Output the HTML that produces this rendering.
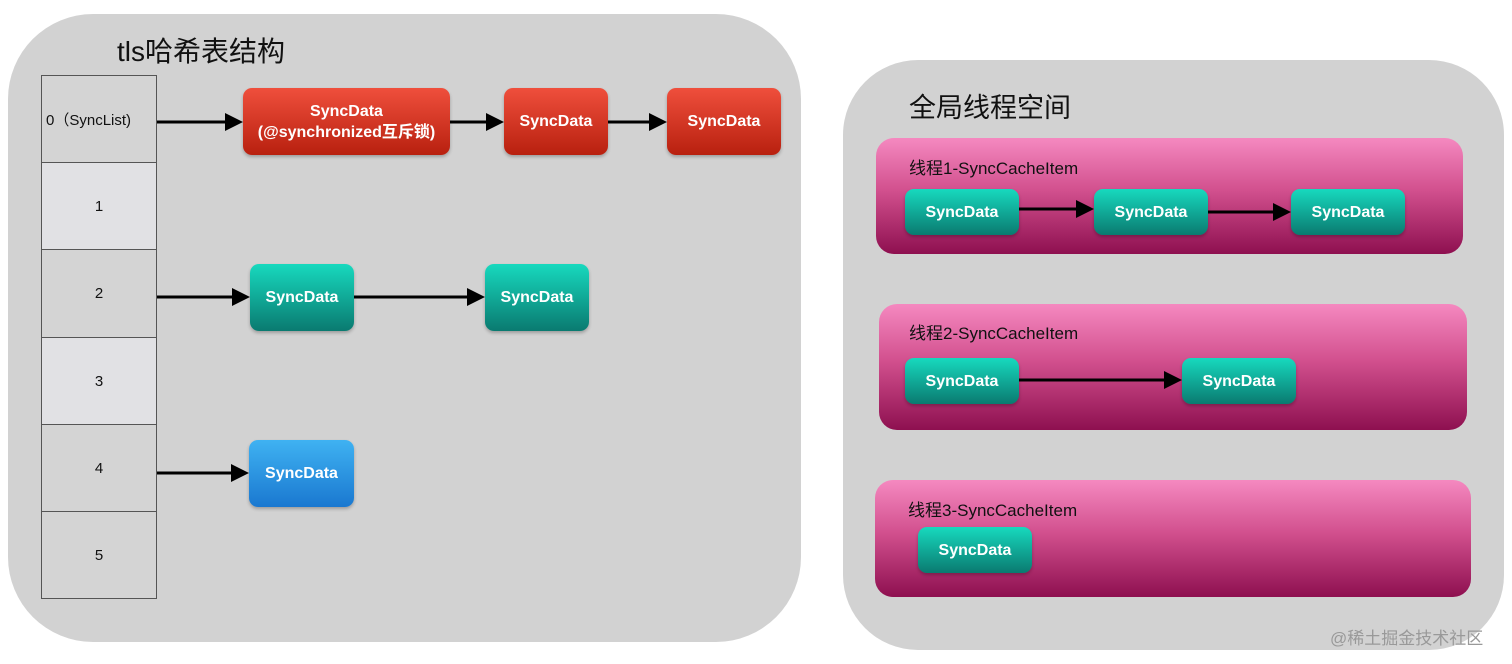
<!DOCTYPE html>
<html><head><meta charset="utf-8"><style>
*{margin:0;padding:0;box-sizing:border-box}
body{width:1512px;height:664px;background:#fff;position:relative;overflow:hidden;font-family:"Liberation Sans","Noto Sans CJK SC",sans-serif}
.p{position:absolute;background:#d2d2d2}
.cell{position:absolute;left:41px;width:116px;border:1px solid #555;display:flex;align-items:center;justify-content:center;font-size:15px;color:#111}
.n{position:absolute;border-radius:9px;color:#fff;font-weight:bold;font-size:16px;display:flex;align-items:center;justify-content:center;text-align:center;line-height:21px;box-shadow:0 2px 3px rgba(0,0,0,.25)}
.r{background:linear-gradient(#ef4f3c,#b8200f)}
.g{background:linear-gradient(#17d9be,#0a7a70)}
.b{background:linear-gradient(#3fb2f2,#1a78d0)}
.pk{position:absolute;border-radius:18px;background:linear-gradient(#f589c0,#d2508e 45%,#8e1050)}
.pk span{position:absolute;left:33px;top:16px;font-size:17px;color:#111}
svg{position:absolute;left:0;top:0}
</style></head><body>
<div class="p" style="left:8px;top:14px;width:793px;height:628px;border-radius:85px"></div>
<div class="p" style="left:843px;top:60px;width:661px;height:590px;border-radius:75px"></div>
<div style="position:absolute;left:117px;top:30px;font-size:28px;color:#111">tls哈希表结构</div>
<div style="position:absolute;left:909px;top:86px;font-size:27px;color:#111">全局线程空间</div>
<div class="cell" style="top:75px;height:88px;background:#d4d4d4;justify-content:flex-start;padding-left:4px">0（SyncList)</div>
<div class="cell" style="top:162px;height:88px;background:#e1e1e4">1</div>
<div class="cell" style="top:249px;height:89px;background:#d4d4d4">2</div>
<div class="cell" style="top:337px;height:88px;background:#e1e1e4">3</div>
<div class="cell" style="top:424px;height:88px;background:#d4d4d4">4</div>
<div class="cell" style="top:511px;height:88px;background:#d4d4d4">5</div>
<div class="n r" style="left:243px;top:88px;width:207px;height:67px">SyncData<br>(@synchronized互斥锁)</div>
<div class="n r" style="left:504px;top:88px;width:104px;height:67px">SyncData</div>
<div class="n r" style="left:667px;top:88px;width:114px;height:67px">SyncData</div>
<div class="n g" style="left:250px;top:264px;width:104px;height:67px">SyncData</div>
<div class="n g" style="left:485px;top:264px;width:104px;height:67px">SyncData</div>
<div class="n b" style="left:249px;top:440px;width:105px;height:67px">SyncData</div>
<div class="pk" style="left:876px;top:138px;width:587px;height:116px"><span>线程1-SyncCacheItem</span></div>
<div class="pk" style="left:879px;top:304px;width:588px;height:126px"><span style="top:15px;left:30px">线程2-SyncCacheItem</span></div>
<div class="pk" style="left:875px;top:480px;width:596px;height:117px"><span>线程3-SyncCacheItem</span></div>
<div class="n g" style="left:905px;top:189px;width:114px;height:46px">SyncData</div>
<div class="n g" style="left:1094px;top:189px;width:114px;height:46px">SyncData</div>
<div class="n g" style="left:1291px;top:189px;width:114px;height:46px">SyncData</div>
<div class="n g" style="left:905px;top:358px;width:114px;height:46px">SyncData</div>
<div class="n g" style="left:1182px;top:358px;width:114px;height:46px">SyncData</div>
<div class="n g" style="left:918px;top:527px;width:114px;height:46px">SyncData</div>
<svg width="1512" height="664">
<defs><marker id="a" markerWidth="6" markerHeight="6" refX="5" refY="3" orient="auto" markerUnits="strokeWidth"><path d="M0,0L6,3L0,6z" fill="#000"/></marker></defs>
<g stroke="#000" stroke-width="3" marker-end="url(#a)">
<line x1="157" y1="122" x2="240" y2="122"/>
<line x1="450" y1="122" x2="501" y2="122"/>
<line x1="608" y1="122" x2="664" y2="122"/>
<line x1="157" y1="297" x2="247" y2="297"/>
<line x1="354" y1="297" x2="482" y2="297"/>
<line x1="157" y1="473" x2="246" y2="473"/>
<line x1="1019" y1="209" x2="1091" y2="209"/>
<line x1="1208" y1="212" x2="1288" y2="212"/>
<line x1="1019" y1="380" x2="1179" y2="380"/>
</g></svg>
<div style="position:absolute;left:1330px;top:624px;font-size:17px;color:#999">@稀土掘金技术社区</div>
</body></html>
